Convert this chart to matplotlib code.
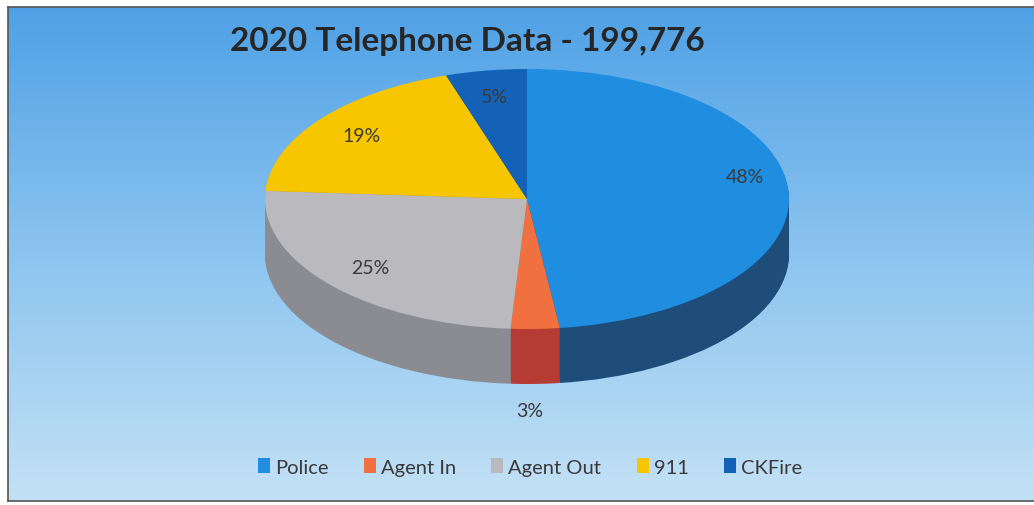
import numpy as np
import matplotlib.pyplot as plt
from matplotlib.colors import LinearSegmentedColormap
from matplotlib.patches import Patch

plt.rcParams['font.family'] = ['Lato', 'DejaVu Sans']

# data
labels = ['Police', 'Agent In', 'Agent Out', '911', 'CKFire']
shares = [48, 3, 25, 19, 5]
title = '2020 Telephone Data - 199,776'

top_colors = ['#1f8ee0', '#f0713f', '#b9b9be', '#f7c600', '#1462b8']
side_colors = ['#1d4d78', '#b53b34', '#8b8b92', '#b89400', '#0e427e']

W, H = 1034, 506
fig = plt.figure(figsize=(W / 100, H / 100), dpi=100)
fig.patch.set_facecolor('white')

# background panel with vertical gradient
bg = fig.add_axes([8 / W, 4 / H, 1026 / W, 494 / H])
grad = LinearSegmentedColormap.from_list('bg', ['#4fa1e6', '#8cc4ef', '#c3e1f5'])
bg.imshow(np.linspace(0, 1, 256).reshape(-1, 1), aspect='auto', cmap=grad,
          extent=[0, 1, 0, 1], origin='upper')
bg.set_xticks([])
bg.set_yticks([])
for s in bg.spines.values():
    s.set_color('#555555')
    s.set_linewidth(1.2)
bg.spines['right'].set_visible(False)

# pie axes: top face radius 1 -> 262 px wide, 130 px tall
depth = 0.423
ax = fig.add_axes([265 / W, 1 - 385 / H, 524 / W, 315 / H])
ax.set_axis_off()

# side wall built from stacked, darker copies of the pie
n_layers = 40
for k in np.linspace(depth, 0.0, n_layers, endpoint=False):
    ax.pie(shares, colors=side_colors, startangle=90, counterclock=False,
           center=(0, -k), radius=1, wedgeprops=dict(linewidth=0))

wedges, texts, autotexts = ax.pie(
    shares, colors=top_colors, startangle=90, counterclock=False,
    radius=1, autopct='%.0f%%', pctdistance=0.8,
    wedgeprops=dict(linewidth=0),
    textprops=dict(fontsize=14, color='#3a3a3a'))

# small slice label sits under the pie
autotexts[1].set_position((0.01, -depth - 1.2))
autotexts[0].set_position((0.83, 0.17))

ax.set_aspect('auto')
ax.set_xlim(-1, 1)
ax.set_ylim(-1 - depth, 1)

fig.text(467 / W, 1 - 42 / H, title, ha='center', va='center',
         fontsize=24, fontweight='bold', color='#262626')

handles = [Patch(facecolor=c, edgecolor='none') for c in top_colors]
fig.legend(handles, labels, loc='center', bbox_to_anchor=(530 / W, 1 - 468 / H),
           ncol=5, frameon=False, fontsize=14.5, handlelength=0.6,
           handleheight=0.7, handletextpad=0.25, columnspacing=1.75,
           labelcolor='#3a3a3a')

fig.savefig('out.png', dpi=100)
